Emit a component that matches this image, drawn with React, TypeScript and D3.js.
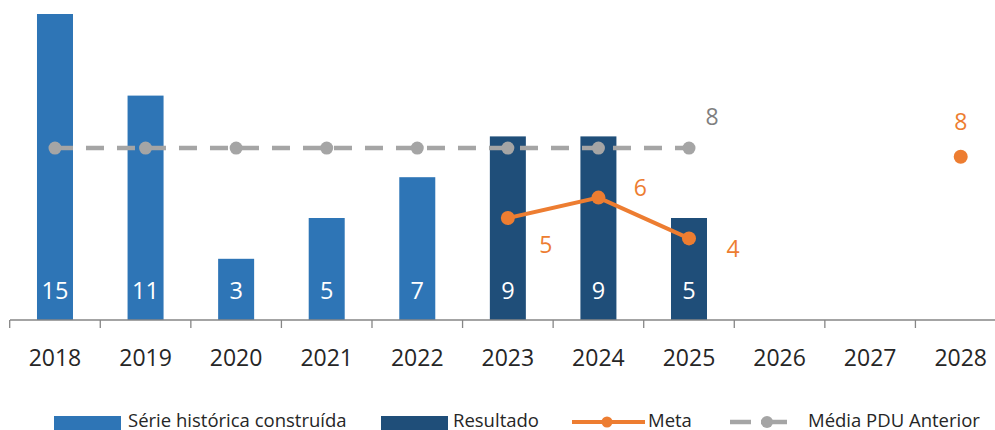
import React from "react";
import * as d3 from "d3";

const years = ["2018", "2019", "2020", "2021", "2022", "2023", "2024", "2025", "2026", "2027", "2028"];
const historico: (number | null)[] = [15, 11, 3, 5, 7, null, null, null, null, null, null];
const resultado: (number | null)[] = [null, null, null, null, null, 9, 9, 5, null, null, null];
const meta: (number | null)[] = [null, null, null, null, null, 5, 6, 4, null, null, 8];
const mediaValue = 59 / 7;
const mediaYears = ["2018", "2019", "2020", "2021", "2022", "2023", "2024", "2025"];
const mediaLabel = "8";
const legendLabels = ["Série histórica construída", "Resultado", "Meta", "Média PDU Anterior"];

// label offsets (styling) for meta labels, keyed by year
const metaLabelOffsets: Record<string, [number, number]> = {
  "2023": [38, 27],
  "2024": [42, -10],
  "2025": [44, 11],
  "2028": [0, -35],
};

const W = 995;
const H = 430;
const FONT = "'Open Sans', 'DejaVu Sans', sans-serif";
const BLUE = "#2E75B6";
const DARK = "#1F4E79";
const ORANGE = "#ED7D31";
const GREY = "#A5A5A5";

export default function App() {
  const x = d3.scaleBand<string>().domain(years).range([9.7, 1006]).paddingInner(0).paddingOuter(0);
  const y = d3.scaleLinear().domain([0, 15]).range([320, 14]);
  const bw = 36;
  const cx = (yr: string) => (x(yr) as number) + x.bandwidth() / 2;

  const metaPts = years.map((yr, i) => ({ yr, v: meta[i] }));
  const line = d3
    .line<{ yr: string; v: number | null }>()
    .defined((d) => d.v !== null)
    .x((d) => cx(d.yr))
    .y((d) => y(d.v as number));
  const mediaLine = d3
    .line<string>()
    .x((d) => cx(d))
    .y(() => y(mediaValue));

  const tickXs = years.map((yr) => x(yr) as number).concat([x.range()[1]]);

  return (
    <svg width={W} height={H} style={{ position: "absolute", left: 0, top: 0, background: "#fff" }} fontFamily={FONT}>
      {/* bars */}
      {years.map((yr, i) =>
        historico[i] !== null ? (
          <rect key={"h" + yr} x={cx(yr) - bw / 2} y={y(historico[i] as number)} width={bw} height={y(0) - y(historico[i] as number)} fill={BLUE} />
        ) : null
      )}
      {years.map((yr, i) =>
        resultado[i] !== null ? (
          <rect key={"r" + yr} x={cx(yr) - bw / 2} y={y(resultado[i] as number)} width={bw} height={y(0) - y(resultado[i] as number)} fill={DARK} />
        ) : null
      )}
      {/* bar labels */}
      {years.map((yr, i) => {
        const v = historico[i] ?? resultado[i];
        if (v === null) return null;
        return (
          <text key={"bl" + yr} x={cx(yr)} y={299} textAnchor="middle" fill="#fff" fontSize={23.5}>
            {v}
          </text>
        );
      })}
      {/* axis */}
      <line x1={10} x2={W} y1={320} y2={320} stroke="#868686" strokeWidth={1.3} />
      {tickXs.map((tx, i) => (
        <line key={"t" + i} x1={tx} x2={tx} y1={320} y2={328} stroke="#868686" strokeWidth={1.3} />
      ))}
      {years.map((yr) => (
        <text key={"xl" + yr} x={cx(yr)} y={366} textAnchor="middle" fill="#262626" fontSize={23}>
          {yr}
        </text>
      ))}
      {/* media line */}
      <path d={mediaLine(mediaYears) as string} fill="none" stroke={GREY} strokeWidth={4.5} strokeDasharray="18,13" />
      {mediaYears.map((yr) => (
        <circle key={"mc" + yr} cx={cx(yr)} cy={y(mediaValue)} r={6.5} fill={GREY} />
      ))}
      <text x={cx("2025") + 23} y={y(mediaValue) - 31 + 8} textAnchor="middle" fill="#7F7F7F" fontSize={23}>
        {mediaLabel}
      </text>
      {/* meta line */}
      <path d={line(metaPts) as string} fill="none" stroke={ORANGE} strokeWidth={4} />
      {metaPts.map((d) =>
        d.v !== null ? <circle key={"oc" + d.yr} cx={cx(d.yr)} cy={y(d.v)} r={7} fill={ORANGE} /> : null
      )}
      {metaPts.map((d) => {
        if (d.v === null) return null;
        const off = metaLabelOffsets[d.yr] || [0, -30];
        return (
          <text key={"ol" + d.yr} x={cx(d.yr) + off[0]} y={y(d.v) + off[1] + 8} textAnchor="middle" fill={ORANGE} fontSize={23}>
            {d.v}
          </text>
        );
      })}
      {/* legend */}
      <g fontSize={18.5} fill="#262626">
        <rect x={54} y={416} width={67} height={20} fill={BLUE} />
        <text x={128} y={426.5}>{legendLabels[0]}</text>
        <rect x={381} y={416} width={67} height={20} fill={DARK} />
        <text x={453} y={426.5}>{legendLabels[1]}</text>
        <line x1={572} x2={645} y1={422} y2={422} stroke={ORANGE} strokeWidth={4} />
        <circle cx={607} cy={422} r={5.5} fill={ORANGE} />
        <text x={648} y={426.5}>{legendLabels[2]}</text>
        <line x1={730} x2={751} y1={422} y2={422} stroke={GREY} strokeWidth={4.5} />
        <line x1={761} x2={787} y1={422} y2={422} stroke={GREY} strokeWidth={4.5} />
        <circle cx={767} cy={422} r={6} fill={GREY} />
        <text x={808} y={426.5}>{legendLabels[3]}</text>
      </g>
    </svg>
  );
}
